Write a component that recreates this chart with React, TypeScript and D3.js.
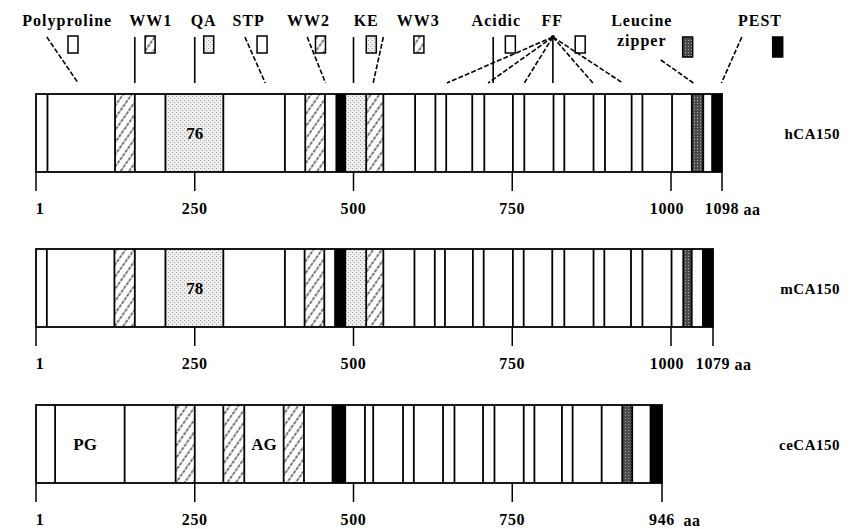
import React from 'react';
import * as d3 from 'd3';

const width = 866;
const height = 529;
const font = '"Liberation Serif", "Times New Roman", serif';

// proteins, top to bottom
const proteinNames = ['hCA150', 'mCA150', 'ceCA150'];
const proteinLengths = [1098, 1079, 946];

// axis ticks (aa)
const hTicks = [1, 250, 500, 750, 1000, 1098];
const mTicks = [1, 250, 500, 750, 1000, 1079];
const ceTicks = [1, 250, 500, 750, 946];

// divider lines inside each bar (aa)
const hLines = [19, 125, 156, 204, 295, 392, 424, 455, 473, 487, 520, 547, 597, 629, 646, 687, 706, 751, 769, 815, 832, 878, 896, 938, 955, 1002, 1040, 1062, 1079];
const mLines = [18, 124, 156, 204, 295, 392, 423, 454, 471, 487, 520, 547, 596, 628, 644, 688, 705, 751, 768, 813, 832, 878, 895, 937, 955, 1001, 1023, 1039, 1060];
const ceLines = [31, 140, 220, 250, 295, 328, 390, 422, 467, 487, 518, 531, 578, 595, 641, 659, 704, 722, 765, 779, 815, 829, 867, 894, 907, 931];

// filled domains: [start, end, kind]
const hFills = [[125, 156, 'hatch'], [204, 295, 'stipple'], [424, 455, 'hatch'], [473, 487, 'black'], [487, 520, 'stipple'], [520, 547, 'hatch'], [1040, 1062, 'dark'], [1079, 1098, 'black']];
const mFills = [[124, 156, 'hatch'], [204, 295, 'stipple'], [423, 454, 'hatch'], [471, 487, 'black'], [487, 520, 'stipple'], [520, 547, 'hatch'], [1023, 1039, 'dark'], [1060, 1079, 'black']];
const ceFills = [[220, 250, 'hatch'], [295, 328, 'hatch'], [390, 422, 'hatch'], [467, 487, 'black'], [894, 907, 'dark'], [931, 946, 'black']];

// labels inside bars: [text, aa]
const hInner = [['76', 250]];
const mInner = [['78', 250]];
const ceInner = [['PG', 78], ['AG', 359]];

// header legend (positions in aa on the hCA150 scale)
const headerNames = ['Polyproline', 'WW1', 'QA', 'STP', 'WW2', 'KE', 'WW3', 'Acidic', 'FF', 'Leucine', 'PEST'];
const headerTextAt = [50, 181, 264, 335, 429, 520, 602, 725, 813, 954, 1171];
const headerBoxAt = [59, 180, 272, 356, 448, 528, 603, 747, 857, 1032, 1205];
const headerBoxKind = ['white', 'hatch', 'stipple', 'white', 'hatch', 'stipple', 'hatch', 'white', 'white', 'dark', 'black'];
// leader lines: [top aa, bottom aa]
const leaders = [[18, 67], [156, 156], [250, 250], [329, 361], [427, 456], [500, 500], [547, 531], [720, 720], [814, 647], [814, 712], [814, 769], [814, 814], [814, 877], [814, 924], [984, 1043], [1136, 1097]];

const tickSets = [hTicks, mTicks, ceTicks];
const lineSets = [hLines, mLines, ceLines];
const fillSets = [hFills, mFills, ceFills];
const innerSets = [hInner, mInner, ceInner];

// layout
const x0 = 36;
const step = 158.75;
const endPx = [722, 713, 662];
const rowTop = [94, 249, 405];
const barH = 78;
const tickLen = 19;

const makeScale = (ticks: number[], i: number) =>
  d3.scaleLinear()
    .domain(ticks)
    .range(ticks.map((t, k) => (k === ticks.length - 1 && t % 250 !== 0 ? endPx[i] : x0 + step * k)));

const fillOf = (kind: string) =>
  kind === 'black' ? '#000' : kind === 'white' ? '#fff' : `url(#${kind})`;

const App = () => {
  const scales = tickSets.map((t, i) => makeScale(t, i));
  const hx = scales[0];

  return (
    <svg width={width} height={height} style={{ display: 'block', position: 'absolute', left: 0, top: 0, background: '#fff' }}>
      <defs>
        <pattern id="hatch" patternUnits="userSpaceOnUse" width="7" height="9" patternTransform="rotate(35)">
          <rect width="7" height="9" fill="#fff" />
          <line x1="1" y1="0" x2="1" y2="9" stroke="#111" strokeWidth="1.1" strokeDasharray="3.5,1" />
        </pattern>
        <pattern id="stipple" patternUnits="userSpaceOnUse" width="4" height="4">
          <rect width="4" height="4" fill="#eeeeee" />
          <rect x="0" y="0" width="1" height="1" fill="#999" />
          <rect x="2" y="2" width="1" height="1" fill="#aaa" />
        </pattern>
        <pattern id="dark" patternUnits="userSpaceOnUse" width="3" height="3">
          <rect width="3" height="3" fill="#4a4a4a" />
          <rect x="1" y="1" width="1" height="1" fill="#aaa" />
        </pattern>
      </defs>

      {/* header legend */}
      <g fontFamily={font} fontWeight="bold" fontSize={16} letterSpacing={1}>
        {headerNames.map((n, i) => (
          <text key={n} x={hx(headerTextAt[i])} y={26} textAnchor="middle">{n}</text>
        ))}
        <text x={hx(headerTextAt[9])} y={46} textAnchor="middle">zipper</text>
        {headerBoxAt.map((a, i) => (
          <rect key={i} x={hx(a) - 5} y={i >= 9 ? 37 : 36} width={10} height={i >= 9 ? 20 : 17}
            fill={fillOf(headerBoxKind[i])} stroke="#000" strokeWidth={1.5} />
        ))}
        {leaders.map(([a, b], i) => (
          <line key={i} x1={hx(a)} y1={i === 14 ? 60 : 37} x2={hx(b)} y2={83}
            stroke="#000" strokeWidth={1.6} strokeDasharray={a === b ? null : '5,2'} />
        ))}
        <circle cx={hx(814)} cy={37} r={2} fill="#000" />
      </g>

      {proteinNames.map((name, i) => {
        const x = scales[i];
        const top = rowTop[i];
        const bottom = top + barH;
        const ticks = tickSets[i];
        const end = proteinLengths[i];
        return (
          <g key={name}>
            {fillSets[i].map(([s, e, k], j) => (
              <rect key={j} x={x(s as number)} y={top} width={x(e as number) - x(s as number)} height={barH} fill={fillOf(k as string)} />
            ))}
            <rect x={x(1)} y={top} width={x(end) - x(1)} height={barH} fill="none" stroke="#000" strokeWidth={1.8} />
            {lineSets[i].map((l, j) => (
              <line key={j} x1={x(l)} x2={x(l)} y1={top} y2={bottom} stroke="#000" strokeWidth={1.8} />
            ))}
            {innerSets[i].map(([t, a], j) => (
              <text key={j} x={x(a as number)} y={top + barH / 2 + 6} textAnchor="middle"
                fontFamily={font} fontWeight="bold" fontSize={17}>{t}</text>
            ))}
            {ticks.map((t) => (
              <line key={t} x1={x(t)} x2={x(t)} y1={bottom} y2={bottom + tickLen} stroke="#000" strokeWidth={1.5} />
            ))}
            <g fontFamily={font} fontWeight="bold" fontSize={16} letterSpacing={0.6}>
              {ticks.map((t) => (
                <text key={t} x={x(t) + (t === 1 ? 4 : t === 1000 ? -4 : 0)} y={bottom + 42} textAnchor="middle">{t}</text>
              ))}
              <text x={x(end) + 30} y={bottom + 43} textAnchor="middle">aa</text>
            </g>
            <text x={840} y={top + barH / 2 + 6} textAnchor="end" fontFamily={font} fontWeight="bold"
              fontSize={15} letterSpacing={0.5}>{name}</text>
          </g>
        );
      })}
    </svg>
  );
};

export default App;
